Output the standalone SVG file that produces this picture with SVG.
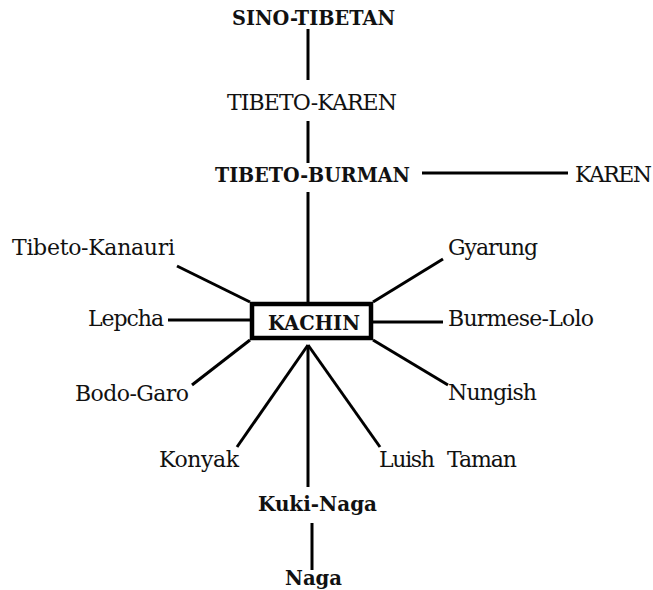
<svg xmlns="http://www.w3.org/2000/svg" width="653" height="590" viewBox="0 0 653 590">
  <style>
    text { font-family: "DejaVu Serif", "Liberation Serif", serif; font-size: 22px; fill: #111; }
    .b { font-weight: bold; font-size: 21px; }
    .ln { stroke: #000; stroke-width: 3; fill: none; stroke-linecap: butt; }
    .box { stroke: #000; stroke-width: 4.5; fill: #fff; }
  </style>
  <rect width="653" height="590" fill="#fff"/>

  <!-- connectors -->
  <g id="connectors">
    <line class="ln" x1="308" y1="29" x2="308" y2="80"/>
    <line class="ln" x1="308" y1="121" x2="308" y2="163"/>
    <line class="ln" x1="422" y1="173" x2="568" y2="173"/>
    <line class="ln" x1="308" y1="192" x2="308" y2="302"/>
    <line class="ln" x1="177" y1="266" x2="250" y2="302"/>
    <line class="ln" x1="168" y1="320" x2="250" y2="320"/>
    <line class="ln" x1="192" y1="385" x2="250" y2="340"/>
    <line class="ln" x1="443" y1="259" x2="373" y2="302"/>
    <line class="ln" x1="373" y1="322" x2="443" y2="322"/>
    <line class="ln" x1="373" y1="340" x2="448" y2="385"/>
    <line class="ln" x1="308" y1="345" x2="237" y2="447"/>
    <line class="ln" x1="308" y1="345" x2="380" y2="447"/>
    <line class="ln" x1="308" y1="345" x2="308" y2="487" stroke-width="4"/>
    <line class="ln" x1="312" y1="523" x2="312" y2="570" stroke-width="2.5"/>
  </g>

  <g id="sino-tibetan"><text class="b" x="232" y="25" textLength="163" lengthAdjust="spacingAndGlyphs">SINO-TIBETAN</text></g>
  <g id="tibeto-karen"><text x="227" y="110" textLength="170">TIBETO-KAREN</text></g>
  <g id="tibeto-burman"><text class="b" x="215" y="182" textLength="195" lengthAdjust="spacingAndGlyphs">TIBETO-BURMAN</text></g>
  <g id="karen"><text x="575" y="182" textLength="77">KAREN</text></g>

  <g id="kachin">
    <rect class="box" x="252" y="304" width="119" height="34"/>
    <text class="b" x="268" y="330" textLength="92" lengthAdjust="spacingAndGlyphs">KACHIN</text>
  </g>

  <g id="tibeto-kanauri"><text x="12" y="255" textLength="163">Tibeto-Kanauri</text></g>
  <g id="lepcha"><text x="88" y="326" textLength="76">Lepcha</text></g>
  <g id="bodo-garo"><text x="75" y="401" textLength="114">Bodo-Garo</text></g>
  <g id="gyarung"><text x="448" y="255" textLength="90">Gyarung</text></g>
  <g id="burmese-lolo"><text x="448" y="326" textLength="146">Burmese-Lolo</text></g>
  <g id="nungish"><text x="448" y="400" textLength="89">Nungish</text></g>
  <g id="konyak"><text x="159" y="467" textLength="80">Konyak</text></g>
  <g id="luish-taman"><text y="467"><tspan x="379" textLength="56">Luish</tspan> <tspan x="447" textLength="70">Taman</tspan></text></g>
  <g id="kuki-naga"><text class="b" x="258" y="511" textLength="119" lengthAdjust="spacingAndGlyphs">Kuki-Naga</text></g>
  <g id="naga"><text class="b" x="285" y="585" textLength="57" lengthAdjust="spacingAndGlyphs">Naga</text></g>
</svg>
